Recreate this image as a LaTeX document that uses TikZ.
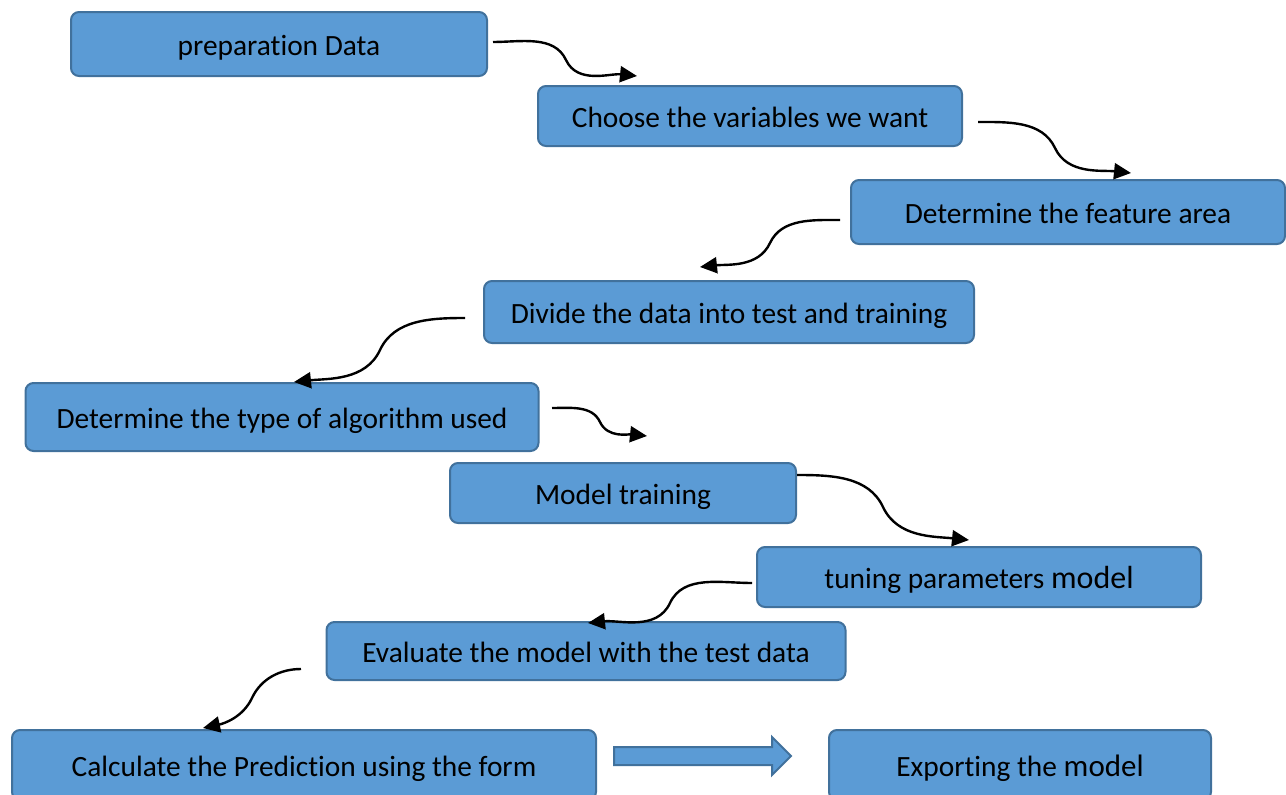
\documentclass[tikz,border=0pt]{standalone}
\usepackage{fontspec}
\setmainfont[Ligatures=NoCommon]{Carlito}
\usetikzlibrary{arrows.meta}
\definecolor{boxfill}{HTML}{5B9BD5}
\definecolor{boxline}{HTML}{41719C}
\begin{document}
\begin{tikzpicture}[x=1pt,y=-1pt,
  box/.style={draw=boxline,fill=boxfill,line width=2pt,rounded corners=8pt,
    inner sep=0pt,text height=22pt,text depth=0pt,
    font=\fontsize{29.4}{34}\selectfont,text=black},
  conn/.style={line width=2.4pt,looseness=0.95,-{Triangle[length=17pt,width=16pt]}}]
\useasboundingbox (0,0) rectangle (1286,795);
\node[box,minimum width=416pt,minimum height=64pt] (n1) at (279,44) {preparation Data};
\node[box,minimum width=424pt,minimum height=60pt] (n2) at (750,116) {Choose the variables we want};
\node[box,minimum width=434pt,minimum height=64pt] (n3) at (1068,212) {Determine the feature area};
\node[box,minimum width=490pt,minimum height=62pt] (n4) at (729,312) {Divide the data into test and training};
\node[box,minimum width=513pt,minimum height=68pt] (n5) at (282,417) {Determine the type of algorithm used};
\node[box,minimum width=346pt,minimum height=60pt] (n6) at (623,493) {Model training};
\node[box,minimum width=444pt,minimum height=60pt] (n7) at (979,577) {tuning parameters {\fontsize{32}{36}\selectfont model}};
\node[box,minimum width=519pt,minimum height=58pt] (n8) at (586,651) {Evaluate the model with the test data};
\node[box,minimum width=584pt,minimum height=70pt] (n9) at (304,765) {Calculate the Prediction using the form};
\node[box,minimum width=382pt,minimum height=70pt] (n10) at (1020,765) {Exporting the {\fontsize{31}{36}\selectfont model}};
% connector end points
\coordinate (a1) at (493,42);  \coordinate (m1) at (566,60);  \coordinate (b1) at (637,76);
\coordinate (a2) at (978,122); \coordinate (m2) at (1055,148); \coordinate (b2) at (1131,173);
\coordinate (a3) at (840,220); \coordinate (m3) at (770,243); \coordinate (b3) at (700,267);
\coordinate (a4) at (465,318); \coordinate (m4) at (380,350); \coordinate (b4) at (294,382);
\coordinate (a5) at (552,408); \coordinate (m5) at (600,422); \coordinate (b5) at (647,436);
\coordinate (a6) at (797,475); \coordinate (m6) at (883,507); \coordinate (b6) at (969,540);
\coordinate (a7) at (752,583); \coordinate (m7) at (670,603); \coordinate (b7) at (588,623);
\coordinate (a8) at (301,669); \coordinate (m8) at (252,698); \coordinate (b8) at (203,728);
\draw[conn] (a1) to[out=0,in=115] (m1) to[out=-65,in=174] (b1);
\draw[conn] (a2) to[out=0,in=115] (m2) to[out=-65,in=174] (b2);
\draw[conn] (a3) to[out=180,in=65] (m3) to[out=-115,in=6] (b3);
\draw[conn] (a4) to[out=180,in=65] (m4) to[out=-115,in=6] (b4);
\draw[conn] (a5) to[out=0,in=115] (m5) to[out=-65,in=174] (b5);
\draw[conn] (a6) to[out=0,in=115] (m6) to[out=-65,in=174] (b6);
\draw[conn] (a7) to[out=180,in=65] (m7) to[out=-115,in=6] (b7);
\draw[conn] (a8) to[out=180,in=65] (m8) to[out=-115,in=12] (b8);
% block arrow
\draw[draw=boxline,fill=boxfill,line width=2pt,line join=miter]
  (614,747) -- (772,747) -- (772,737) -- (791,756) -- (772,775) -- (772,765) -- (614,765) -- cycle;
\end{tikzpicture}
\end{document}
